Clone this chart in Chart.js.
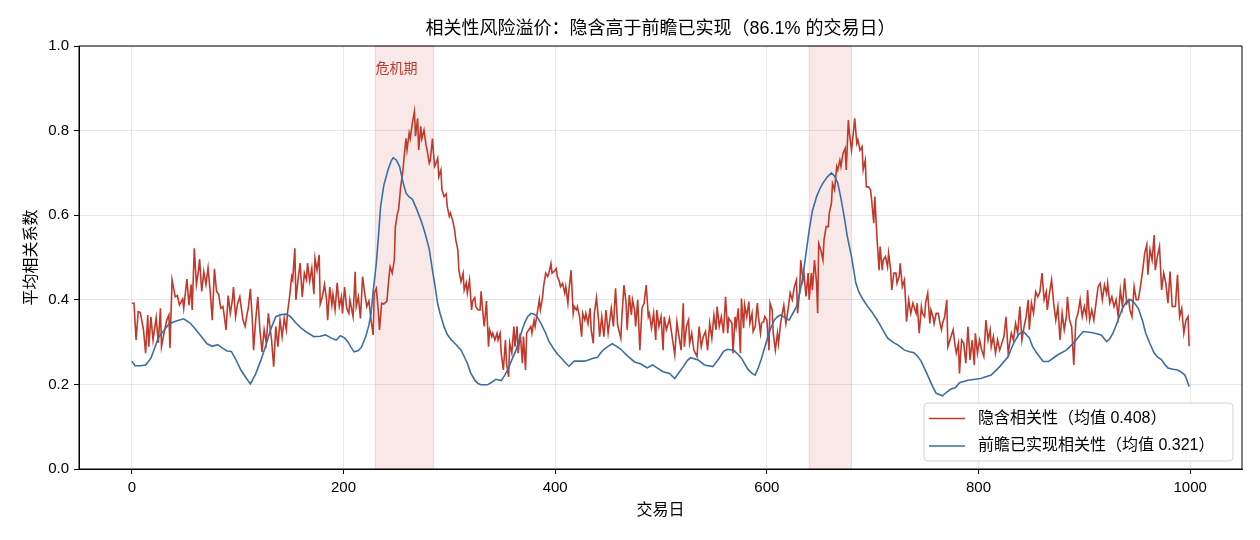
<!DOCTYPE html>
<html lang="zh">
<head>
    <meta charset="UTF-8">
    <title>相关性风险溢价</title>
    <script src="https://cdn.jsdelivr.net/npm/chart.js"></script>
    <style>
        body { margin: 0; background: #fff; }
    </style>
</head>
<body>
    <canvas id="myChart" width="1260" height="540"></canvas>

<script>
    // 隐含相关性 [交易日, 值] - 从图上读出来的
    const impliedPts = [
        [0,.392],[2,.392],[4,.305],[6,.372],[8,.370],[11,.329],[13,.274],[15,.364],[16,.289],[18,.360],
        [20,.305],[23,.358],[25,.298],[27,.380],[28,.289],[31,.329],[33,.352],[35,.364],[36,.286],[38,.447],
        [41,.407],[43,.410],[45,.388],[48,.402],[49,.380],[52,.449],[54,.387],[56,.436],[57,.376],[59,.522],
        [61,.436],[63,.470],[64,.496],[66,.420],[68,.466],[70,.436],[72,.475],[74,.420],[76,.352],[78,.473],
        [80,.420],[82,.413],[84,.380],[86,.384],[87,.368],[89,.329],[91,.410],[93,.368],[95,.400],[96,.430],
        [98,.360],[100,.392],[102,.407],[105,.352],[107,.337],[109,.368],[110,.380],[112,.426],[114,.345],[115,.281],
        [117,.352],[119,.407],[121,.329],[123,.277],[125,.329],[127,.298],[129,.368],[132,.305],[134,.242],[136,.337],
        [138,.289],[140,.352],[142,.313],[144,.356],[146,.329],[147,.368],[149,.407],[151,.455],[152,.447],[154,.522],
        [155,.400],[157,.447],[159,.487],[161,.407],[163,.463],[165,.447],[166,.487],[168,.444],[170,.475],[172,.413],
        [173,.498],[175,.470],[177,.506],[178,.390],[180,.407],[182,.436],[184,.400],[185,.352],[187,.430],[189,.388],
        [190,.413],[192,.376],[194,.440],[196,.384],[198,.407],[199,.368],[201,.430],[203,.380],[205,.368],[206,.400],
        [209,.360],[211,.466],[212,.384],[214,.407],
        [216,.356],[218,.455],[220,.416],[222,.384],[224,.397],[226,.352],[228,.317],[229,.416],[231,.427],[233,.368],
        [234,.329],[236,.392],[238,.390],[241,.397],[243,.455],[244,.478],[246,.463],[248,.494],[249,.573],[251,.605],
        [252,.613],[254,.667],[256,.703],[257,.730],[259,.782],[260,.754],[262,.794],[263,.781],[265,.817],[267,.845],
        [268,.787],[270,.829],[271,.754],[273,.810],[274,.781],[276,.801],[278,.765],[279,.754],[281,.723],[282,.730],
        [284,.781],[286,.715],[287,.720],[289,.735],[290,.691],[292,.707],[293,.660],[295,.644],[297,.650],[298,.620],
        [300,.597],[301,.605],[303,.589],[305,.565],[306,.542],[308,.518],[309,.470],[311,.443],[313,.463],[314,.423],
        [316,.440],[317,.416],[319,.447],[321,.376],[322,.397],[324,.405],[325,.384],[327,.376],[329,.376],[330,.420],
        [332,.360],[333,.337],[335,.397],[337,.289],[338,.329],[340,.313],[341,.321],[343,.305],[345,.321],[346,.305],
        [348,.321],[349,.274],[351,.234],[353,.305],[354,.250],[356,.218],[357,.297],[359,.274],[361,.337],[362,.289],
        [364,.337],[365,.274],[367,.321],[369,.250],[370,.313],[372,.234],[373,.321],[375,.329],[377,.337],[378,.321],
        [380,.352],[381,.337],[383,.368],[385,.400],[386,.376],[388,.405],[389,.431],[391,.463],[393,.455],[394,.463],
        [396,.486],[397,.463],[399,.467],[401,.474],[402,.455],[404,.443],[405,.431],[407,.439],[409,.416],[410,.431],
        [412,.392],[413,.423],[415,.470],[417,.368],[418,.384],[420,.376],[421,.384],[423,.360],[425,.313],[426,.368],
        [428,.352],[429,.368],[431,.344],[433,.380],[434,.329],[436,.297],[437,.368],[439,.405],[441,.352],[442,.313],
        [444,.360],[446,.313],[448,.376],[450,.321],[453,.380],[455,.337],[457,.427],[459,.340],[462,.309],[463,.360],
        [465,.435],[467,.392],[468,.329],[470,.411],[472,.364],[473,.400],[475,.376],[476,.337],[478,.400],[480,.281],
        [482,.380],[484,.392],[486,.435],[488,.360],[489,.368],[491,.333],[493,.368],[495,.305],[496,.376],[498,.337],
        [500,.360],[502,.281],[503,.360],[505,.329],[507,.345],[508,.356],[510,.321],[513,.270],[515,.348],[517,.313],
        [519,.281],[521,.392],[522,.289],[524,.337],[526,.352],[527,.297],[529,.321],[531,.281],[534,.266],[536,.337],
        [538,.289],[540,.313],[542,.325],[544,.281],[546,.345],[548,.309],[550,.364],[552,.329],[553,.384],[555,.337],
        [557,.360],[559,.321],[561,.407],[563,.321],[564,.356],[567,.345],[568,.274],[570,.360],[571,.337],[573,.380],
        [575,.274],[576,.403],[578,.333],[579,.388],[581,.360],[583,.396],[584,.345],[586,.368],[587,.325],[589,.337],
        [591,.392],[592,.360],[594,.321],[595,.345],[597,.348],[598,.360],[600,.352],[602,.281],[603,.392],[605,.376],
        [606,.321],[608,.281],[610,.321],[611,.297],[613,.345],
        [616,.387],[618,.344],[620,.376],[622,.416],[624,.400],[626,.431],[628,.447],[629,.368],[631,.423],[632,.494],
        [634,.447],[635,.463],[637,.408],[639,.463],[640,.400],[642,.463],[643,.423],[645,.494],[647,.439],[648,.368],
        [649,.533],[651,.518],[653,.494],[654,.541],[656,.573],[658,.573],[659,.605],[661,.628],[662,.675],[664,.660],
        [666,.715],[667,.707],[669,.730],[670,.715],[672,.746],[674,.758],[675,.707],[677,.825],[678,.794],[680,.754],
        [682,.801],[683,.829],[685,.770],[686,.778],[688,.754],[690,.762],[691,.707],[693,.730],[694,.667],[696,.667],
        [698,.660],[699,.636],[701,.581],[702,.644],[704,.550],[706,.470],[707,.526],[709,.470],[710,.494],[712,.502],
        [714,.478],[715,.510],[717,.470],[718,.423],[720,.463],[722,.463],[723,.439],[725,.455],[726,.486],[728,.431],
        [730,.447],[731,.400],[732,.348],[734,.400],[736,.368],[738,.392],[739,.384],[741,.368],[742,.392],[744,.321],
        [746,.384],[747,.368],[749,.360],[750,.392],[752,.416],[754,.344],[755,.376],[757,.360],[758,.344],[760,.368],
        [762,.368],[763,.352],[765,.329],[766,.344],[768,.360],[770,.400],[771,.289],[773,.305],[774,.313],[776,.329],
        [778,.289],[779,.274],[781,.297],[782,.226],
        [784,.305],[786,.297],[788,.250],[790,.336],[792,.258],[794,.305],[796,.246],[797,.321],[799,.274],[801,.305],
        [803,.281],[805,.266],[807,.352],[809,.305],[811,.329],[812,.289],[814,.313],[816,.274],[818,.305],[820,.281],
        [822,.297],[824,.313],[826,.360],[828,.274],[829,.289],[831,.321],[833,.305],[835,.344],[837,.321],[839,.384],
        [841,.305],[843,.336],[845,.360],[847,.400],[848,.329],[850,.392],[852,.368],[854,.419],[856,.407],[858,.419],
        [860,.463],[862,.400],[864,.419],[865,.376],[867,.415],[869,.447],[871,.392],[873,.352],[875,.384],[877,.305],
        [879,.368],[881,.329],[883,.360],[884,.407],[886,.352],[888,.336],[890,.246],[892,.352],[894,.368],[896,.400],
        [898,.360],[900,.384],[902,.360],[903,.423],[905,.352],[907,.376],[909,.352],[911,.392],[913,.431],[915,.439],
        [917,.400],[919,.435],[921,.415],[922,.439],[924,.392],[926,.407],[928,.384],[930,.400],[932,.360],[934,.423],
        [936,.384],[938,.451],[940,.392],[942,.400],[943,.376],[945,.360],[947,.431],[949,.400],[951,.400],[953,.431],
        [955,.467],[957,.510],[959,.530],[960,.459],[962,.518],[964,.494],[966,.553],[967,.470],[969,.502],[971,.526],
        [973,.423],[975,.463],[977,.439],[979,.392],[981,.467],[983,.384],[985,.384],[986,.384],[988,.459],[990,.360],
        [992,.380],[994,.321],[996,.352],[998,.360],[999,.290]
    ];

    // 前瞻已实现相关性 (平滑线)
    const realizedPts = [
        [0,.255],[3,.244],[8,.244],[13,.246],[18,.262],[25,.310],[35,.343],[42,.350],[49,.355],[55,.345],
        [60,.331],[66,.312],[71,.296],[76,.290],[81,.294],[86,.285],[90,.279],[94,.278],[98,.260],[103,.234],
        [108,.215],[112,.201],[117,.225],[122,.258],[127,.295],[131,.329],[136,.360],[141,.365],[146,.366],[150,.360],
        [155,.345],[160,.333],[166,.322],[172,.313],[178,.314],[183,.317],[188,.310],[193,.305],[197,.315],[201,.310],
        [204,.301],[207,.288],[210,.277],[214,.280],[217,.288],[221,.313],[224,.340],[226,.368],[228,.420],[231,.487],
        [233,.550],[235,.620],[238,.670],[242,.707],[245,.728],[247,.736],[250,.730],[253,.715],[256,.680],[259,.652],
        [262,.643],[265,.638],[269,.615],[273,.589],[277,.558],[281,.520],[284,.470],[286,.440],[289,.390],[291,.370],
        [295,.336],[298,.318],[302,.305],[306,.295],[311,.281],[314,.266],[317,.250],[320,.228],[324,.210],[327,.202],
        [330,.199],[336,.199],[340,.205],[344,.212],[349,.209],[352,.220],[355,.234],[359,.258],[363,.281],[367,.315],
        [371,.345],[374,.360],[377,.368],[380,.366],[383,.360],[387,.342],[391,.321],[394,.302],[398,.286],[402,.272],
        [406,.262],[410,.250],[413,.243],[418,.255],[423,.255],[428,.255],[436,.262],[440,.264],[443,.275],[446,.283],
        [450,.290],[454,.296],[458,.290],[462,.283],[468,.268],[475,.253],[481,.248],[487,.239],[492,.246],[497,.238],
        [502,.230],[508,.226],[513,.214],[517,.228],[521,.242],[525,.257],[528,.263],[535,.258],[541,.246],[549,.242],
        [555,.262],[559,.278],[563,.283],[569,.280],[573,.270],[576,.262],[582,.236],[586,.226],[589,.222],[592,.240],
        [595,.262],[598,.288],[601,.313],[604,.335],[607,.352],[610,.360],[613,.364],[617,.358],[621,.352],[625,.370],
        [628,.384],[631,.415],[634,.455],[637,.510],[640,.565],[643,.610],[647,.644],[650,.662],[653,.676],[657,.690],
        [661,.700],[664,.692],[667,.676],[670,.640],[673,.597],[676,.550],[680,.502],[684,.440],[687,.418],[691,.400],
        [695,.385],[699,.372],[703,.357],[706,.345],[710,.327],[714,.310],[719,.300],[724,.293],[730,.281],[735,.277],
        [739,.275],[743,.265],[746,.254],[750,.232],[754,.210],[757,.193],[760,.179],[766,.173],[770,.182],[774,.189],
        [778,.192],[782,.204],[790,.210],[802,.214],[812,.222],[820,.242],[828,.266],[831,.285],[834,.301],[838,.318],
        [842,.326],[848,.310],[851,.290],[855,.274],[861,.254],[866,.254],[871,.263],[875,.270],[883,.281],[891,.301],
        [895,.314],[899,.325],[908,.322],[916,.317],[921,.301],[924,.308],[927,.321],[930,.340],[933,.360],[936,.380],
        [940,.396],[944,.400],[947,.393],[951,.380],[955,.350],[958,.321],[962,.296],[966,.274],[969,.265],[973,.258],
        [976,.247],[979,.239],[984,.236],[988,.234],[991,.230],[995,.222],[997,.210],[999,.195]
    ];

    const xTicks = [0, 200, 400, 600, 800, 1000];
    const yTicks = [0, 0.2, 0.4, 0.6, 0.8, 1.0];
    const crisisStart = [230, 640];
    const crisisEnd = [285, 680];
    const crisisLabel = "危机期";

    const impliedMean = 0.408;
    const realizedMean = 0.321;
    const premiumShare = 86.1;

    const C_RED = "#c0392b";
    const C_BLUE = "#3a6ea5";
    // 数字用 Liberation, 汉字落到 Noto CJK
    const FONT = "'Liberation Sans', 'Noto Sans CJK SC', sans-serif";

    const titleText = "相关性风险溢价：隐含高于前瞻已实现（" + premiumShare + "% 的交易日）";
    const legendItems = [
        { color: C_RED,  text: "隐含相关性（均值 " + impliedMean.toFixed(3) + "）" },
        { color: C_BLUE, text: "前瞻已实现相关性（均值 " + realizedMean.toFixed(3) + "）" }
    ];

    function f_toXY(p_pts){
        return p_pts.map(function(p){ return {x: p[0], y: p[1]}; });
    }

    function f_roundRect(ctx, x, y, w, h, r){
        ctx.beginPath();
        ctx.moveTo(x + r, y);
        ctx.lineTo(x + w - r, y);
        ctx.quadraticCurveTo(x + w, y, x + w, y + r);
        ctx.lineTo(x + w, y + h - r);
        ctx.quadraticCurveTo(x + w, y + h, x + w - r, y + h);
        ctx.lineTo(x + r, y + h);
        ctx.quadraticCurveTo(x, y + h, x, y + h - r);
        ctx.lineTo(x, y + r);
        ctx.quadraticCurveTo(x, y, x + r, y);
        ctx.closePath();
    }

    // 危机期阴影, 边框, 标题, 图例 -> 플러그인으로 직접 그림
    const decor = {
        id: "decor",
        beforeDatasetsDraw(chart){
            const ctx = chart.ctx, a = chart.chartArea, xs = chart.scales.x, ys = chart.scales.y;
            ctx.save();
            for (let i = 0; i < crisisStart.length; i++){
                const x0 = xs.getPixelForValue(crisisStart[i]);
                const x1 = xs.getPixelForValue(crisisEnd[i]);
                ctx.fillStyle = "rgba(192,57,43,0.11)";
                ctx.fillRect(x0, a.top, x1 - x0, a.bottom - a.top);
                ctx.strokeStyle = "rgba(192,57,43,0.16)";
                ctx.lineWidth = 1;
                ctx.strokeRect(x0, a.top, x1 - x0, a.bottom - a.top);
            }
            // 第一个危机期标签
            ctx.fillStyle = C_RED;
            ctx.font = "14px " + FONT;
            ctx.textAlign = "center";
            ctx.textBaseline = "middle";
            ctx.fillText(crisisLabel, xs.getPixelForValue(250), ys.getPixelForValue(0.945));
            ctx.restore();
        },
        afterDraw(chart){
            const ctx = chart.ctx, a = chart.chartArea;
            ctx.save();
            // 外框
            ctx.strokeStyle = "#000";
            ctx.lineWidth = 1;
            ctx.strokeRect(a.left, a.top, a.right - a.left, a.bottom - a.top);

            // 标题
            ctx.fillStyle = "#000";
            ctx.textAlign = "center";
            ctx.textBaseline = "middle";
            ctx.font = "18px " + FONT;
            ctx.fillText(titleText, (a.left + a.right) / 2, 29);

            // 轴标题
            ctx.font = "16px " + FONT;
            ctx.fillText("交易日", (a.left + a.right) / 2, 511);
            ctx.translate(32, (a.top + a.bottom) / 2);
            ctx.rotate(-Math.PI / 2);
            ctx.fillText("平均相关系数", 0, 0);
            ctx.setTransform(1, 0, 0, 1, 0, 0);
            ctx.restore();

            // 图例 (右下角)
            ctx.save();
            const bx = 924, by = 403, bw = 309, bh = 58;
            f_roundRect(ctx, bx, by, bw, bh, 4);
            ctx.fillStyle = "rgba(255,255,255,0.85)";
            ctx.fill();
            ctx.strokeStyle = "#d4d4d4";
            ctx.lineWidth = 1;
            ctx.stroke();
            ctx.font = "16px " + FONT;
            ctx.textAlign = "left";
            ctx.textBaseline = "middle";
            legendItems.forEach(function(it, i){
                const yy = by + 15.5 + i * 27.5;
                ctx.strokeStyle = it.color;
                ctx.lineWidth = 1.6;
                ctx.beginPath();
                ctx.moveTo(bx + 5, yy);
                ctx.lineTo(bx + 41, yy);
                ctx.stroke();
                ctx.fillStyle = "#000";
                ctx.fillText(it.text, bx + 54, yy);
            });
            ctx.restore();
        }
    };

    const ctx = document.getElementById("myChart").getContext("2d");
    const myChart = new Chart(ctx, {
        type: "line",
        data: {
            datasets: [
                {
                    label: legendItems[0].text,
                    data: f_toXY(impliedPts),
                    borderColor: C_RED,
                    borderWidth: 1.6,
                    pointRadius: 0,
                    tension: 0,
                    order: 2
                },
                {
                    label: legendItems[1].text,
                    data: f_toXY(realizedPts),
                    borderColor: C_BLUE,
                    borderWidth: 1.6,
                    pointRadius: 0,
                    tension: 0,
                    order: 1
                }
            ]
        },
        options: {
            responsive: false,
            animation: false,
            devicePixelRatio: 1,
            layout: { padding: { top: 46, right: 18, left: 0, bottom: 0 } },
            plugins: {
                legend: { display: false },
                title: { display: false },
                tooltip: { enabled: false }
            },
            scales: {
                x: {
                    type: "linear",
                    min: -49.95,
                    max: 1048.95,
                    afterBuildTicks: function(s){ s.ticks = xTicks.map(function(v){ return {value: v}; }); },
                    afterFit: function(s){ s.height = 71; },
                    ticks: {
                        color: "#000",
                        font: { size: 15, family: FONT },
                        padding: 5,
                        maxRotation: 0,
                        callback: function(v){ return String(v); }
                    },
                    grid: { color: "rgba(0,0,0,0.09)", lineWidth: 1, tickColor: "#000", tickLength: 5 },
                    border: { display: true, color: "#000", width: 1 }
                },
                y: {
                    min: 0,
                    max: 1,
                    afterBuildTicks: function(s){ s.ticks = yTicks.map(function(v){ return {value: v}; }); },
                    afterFit: function(s){ s.width = 79; },
                    ticks: {
                        color: "#000",
                        font: { size: 15, family: FONT },
                        padding: 5,
                        callback: function(v){ return v.toFixed(1); }
                    },
                    grid: { color: "rgba(0,0,0,0.09)", lineWidth: 1, tickColor: "#000", tickLength: 5 },
                    border: { display: true, color: "#000", width: 1 }
                }
            }
        },
        plugins: [decor]
    });
</script>
</body>
</html>
